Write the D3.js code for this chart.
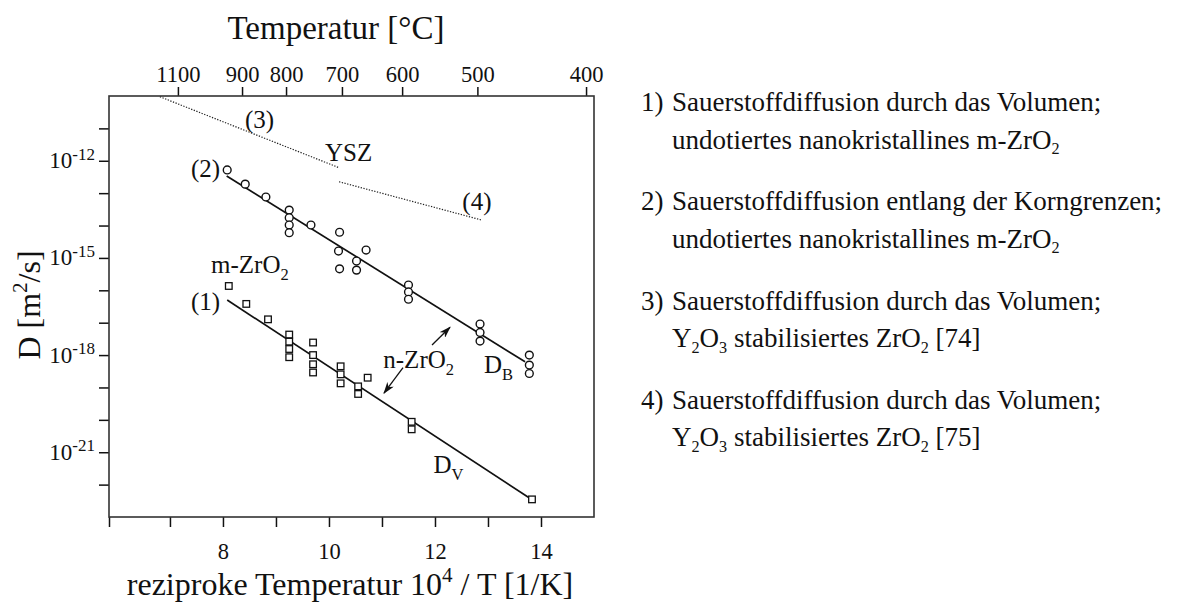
<!DOCTYPE html>
<html>
<head>
<meta charset="utf-8">
<script src="https://cdn.jsdelivr.net/npm/d3@7"></script>
<style>
  body { margin: 0; background: #fff; }
  svg { display: block; }
  text { font-family: "Liberation Serif", "Times New Roman", serif; fill: #111; }
</style>
</head>
<body>
<svg id="chart" width="1178" height="606"></svg>
<script>
// Grain-boundary diffusion (series 2), circles: 10^4/T [1/K] and D [m^2/s]
const boundaryX = [8.08, 8.42, 8.81, 9.25, 9.25, 9.25, 9.25, 9.66, 10.20, 10.18, 10.20,
                   10.52, 10.52, 10.70, 11.50, 11.50, 11.50, 12.85, 12.85, 12.85, 13.78, 13.78, 13.78];
const boundaryD = [5.2e-13, 1.9e-13, 7.6e-14, 3.0e-14, 1.75e-14, 1.04e-14, 6.0e-15, 1.04e-14, 6.2e-15, 1.63e-15, 4.6e-16,
                   8.0e-16, 4.2e-16, 1.75e-15, 1.46e-16, 8.9e-17, 5.3e-17, 9.1e-18, 5.0e-18, 2.7e-18, 1.0e-18, 4.9e-19, 2.7e-19];

// Volume diffusion (series 1), squares
const volumeX = [8.11, 8.44, 8.85, 9.25, 9.25, 9.25, 9.25, 9.70, 9.70, 9.70, 9.70,
                 10.22, 10.22, 10.22, 10.73, 10.55, 10.55, 11.56, 11.56, 13.83];
const volumeD = [1.36e-16, 3.8e-17, 1.27e-17, 4.3e-18, 2.6e-18, 1.54e-18, 8.6e-19, 2.44e-18, 1.0e-18, 5.2e-19, 2.9e-19,
                 4.5e-19, 2.54e-19, 1.34e-19, 2.0e-19, 1.08e-19, 6.3e-20, 8.7e-21, 5.1e-21, 3.5e-23];

// Fitted Arrhenius lines (start and end points)
const fitBoundary = [[8.07, 3.4e-13], [13.70, 6.2e-19]];
const fitVolume   = [[8.08, 5.0e-17], [13.79, 3.8e-23]];
// Literature data for Y2O3-stabilised ZrO2, dotted
const yszRef74 = [[6.81, 9.5e-11], [10.19, 6.1e-13]];
const yszRef75 = [[10.19, 2.25e-13], [12.88, 1.48e-14]];

// Axis ticks
const bottomTicks = [5.85, 7, 8, 9, 10, 11, 12, 13, 14];
const bottomLabels = [8, 10, 12, 14];
const tempLabels = ["1100", "900", "800", "700", "600", "500", "400"];
const tempAt = [7.15, 8.36, 9.19, 10.245, 11.38, 12.80, 14.85];
const yTickExps = [-22, -21, -20, -19, -18, -17, -16, -15, -14, -13, -12, -11];
const yLabelExps = [-12, -15, -18, -21];

// Text annotations placed in data coordinates
const notes = [
  { t: "(2)", x: 7.945, d: 3.16e-13, anchor: "end" },
  { t: "(1)", x: 7.945, d: 2.45e-17, anchor: "end" },
  { t: "m-ZrO_{2}", x: 7.775, d: 3.34e-16, anchor: "start" },
  { t: "(3)", x: 8.416, d: 1.05e-11, anchor: "start" },
  { t: "YSZ", x: 9.925, d: 1.0e-12, anchor: "start" },
  { t: "(4)", x: 12.516, d: 3.0e-14, anchor: "start" },
  { t: "n-ZrO_{2}", x: 11.025, d: 4.0e-19, anchor: "start" },
  { t: "D_{B}", x: 12.925, d: 2.73e-19, anchor: "start" },
  { t: "D_{V}", x: 11.973, d: 2.23e-22, anchor: "start" }
];
const arrows = [
  [[11.944, 2.04e-18], [12.284, 7.2e-18]],
  [[11.397, 4.08e-19], [11.038, 6.7e-20]]
];

const legendItems = [
  { num: "1)", l1: "Sauerstoffdiffusion durch das Volumen;", l2: "undotiertes nanokristallines m-ZrO_{2}" },
  { num: "2)", l1: "Sauerstoffdiffusion entlang der Korngrenzen;", l2: "undotiertes nanokristallines m-ZrO_{2}" },
  { num: "3)", l1: "Sauerstoffdiffusion durch das Volumen;", l2: "Y_{2}O_{3} stabilisiertes ZrO_{2} [74]" },
  { num: "4)", l1: "Sauerstoffdiffusion durch das Volumen;", l2: "Y_{2}O_{3} stabilisiertes ZrO_{2} [75]" }
];

// Writes a string with _{..} subscripts and ^{..} superscripts as tspans
function rich(sel, str, fs, opts = {}) {
  const subScale = opts.subScale || 0.66, supScale = opts.supScale || 0.66;
  const subShift = opts.subShift || 0.28, supShift = opts.supShift || 0.42;
  const toks = str.split(/(_\{[^}]*\}|\^\{[^}]*\})/).filter(s => s.length);
  let shift = 0;
  toks.forEach(t => {
    let kind = "norm", content = t;
    if (t.startsWith("_{")) { kind = "sub"; content = t.slice(2, -1); }
    else if (t.startsWith("^{")) { kind = "sup"; content = t.slice(2, -1); }
    const target = kind === "sub" ? fs * subShift : kind === "sup" ? -fs * supShift : 0;
    sel.append("tspan")
      .attr("dy", target - shift)
      .attr("font-size", kind === "norm" ? fs : fs * (kind === "sub" ? subScale : supScale))
      .text(content);
    shift = target;
  });
}

const svg = d3.select("#chart");
const L = 109, T = 96, R = 594, B = 517;

const x = d3.scaleLinear().domain([5.85, 15.0]).range([L, R]);
const y = d3.scaleLog().domain([1e-23, 1e-10]).range([B, T]);

const ink = "#111";

// Bottom axis
const gx = svg.append("g").attr("transform", `translate(0,${B})`)
  .call(d3.axisBottom(x).tickValues(bottomTicks).tickSize(10).tickSizeOuter(0)
    .tickFormat(d => bottomLabels.includes(d) ? d : ""));
gx.select(".domain").remove();
gx.selectAll(".tick line").attr("stroke", ink).attr("stroke-width", 1.5);
gx.selectAll(".tick text").attr("y", 42).attr("dy", 0).attr("font-size", 22.5)
  .attr("font-family", "Liberation Serif").attr("fill", ink);

// Top axis: temperature in °C
const gt = svg.append("g").attr("transform", `translate(0,${T})`)
  .call(d3.axisTop(x).tickValues(tempAt).tickSize(9).tickSizeOuter(0)
    .tickFormat((d, i) => tempLabels[i]));
gt.select(".domain").remove();
gt.selectAll(".tick line").attr("stroke", ink).attr("stroke-width", 1.5);
gt.selectAll(".tick text").attr("y", -14).attr("dy", 0).attr("font-size", 22.5)
  .attr("font-family", "Liberation Serif").attr("fill", ink);

// Left axis: log D
const gy = svg.append("g").attr("transform", `translate(${L},0)`)
  .call(d3.axisLeft(y).tickValues(yTickExps.map(e => Math.pow(10, e))).tickSize(10).tickSizeOuter(0)
    .tickFormat(() => ""));
gy.select(".domain").remove();
gy.selectAll(".tick line").attr("stroke", ink).attr("stroke-width", 1.5);
gy.selectAll(".tick text").remove();
yLabelExps.forEach(e => {
  const t = svg.append("text")
    .attr("x", L - 14).attr("y", y(Math.pow(10, e)) + 7.5)
    .attr("text-anchor", "end");
  rich(t, `10^{${e}}`, 23, { supScale: 0.74, supShift: 0.36 });
});

// Frame
svg.append("rect").attr("x", L).attr("y", T).attr("width", R - L).attr("height", B - T)
  .attr("fill", "none").attr("stroke", "#333").attr("stroke-width", 1.6);

// Axis titles
svg.append("text").attr("x", 336).attr("y", 39).attr("text-anchor", "middle")
  .attr("font-size", 33).text("Temperatur [°C]");
rich(svg.append("text").attr("x", 350).attr("y", 595).attr("text-anchor", "middle"),
  "reziproke Temperatur 10^{4} / T [1/K]", 32);
rich(svg.append("text").attr("transform", "translate(40,305) rotate(-90)").attr("text-anchor", "middle"),
  "D [m^{2}/s]", 32);

// Lines
const line = d3.line().x(d => x(d[0])).y(d => y(d[1]));
[fitBoundary, fitVolume].forEach(p =>
  svg.append("path").attr("d", line(p)).attr("fill", "none").attr("stroke", ink).attr("stroke-width", 1.7));
[yszRef74, yszRef75].forEach(p =>
  svg.append("path").attr("d", line(p)).attr("fill", "none").attr("stroke", "#222")
    .attr("stroke-width", 1.2).attr("stroke-dasharray", "1.3,1.5"));

// Markers
svg.append("g").selectAll("circle").data(boundaryX.map((v, i) => [v, boundaryD[i]])).join("circle")
  .attr("cx", d => x(d[0])).attr("cy", d => y(d[1])).attr("r", 3.9)
  .attr("fill", "#fff").attr("stroke", ink).attr("stroke-width", 1.4);
const s = 6.6;
svg.append("g").selectAll("rect").data(volumeX.map((v, i) => [v, volumeD[i]])).join("rect")
  .attr("x", d => x(d[0]) - s / 2).attr("y", d => y(d[1]) - s / 2).attr("width", s).attr("height", s)
  .attr("fill", "#fff").attr("stroke", ink).attr("stroke-width", 1.3);

// Annotations
notes.forEach(n => {
  const t = svg.append("text").attr("x", x(n.x)).attr("y", y(n.d))
    .attr("text-anchor", n.anchor);
  rich(t, n.t, 25);
});

svg.append("defs").append("marker").attr("id", "head")
  .attr("viewBox", "0 0 12 8").attr("refX", 11).attr("refY", 4)
  .attr("markerWidth", 12).attr("markerHeight", 8).attr("markerUnits", "userSpaceOnUse")
  .attr("orient", "auto")
  .append("path").attr("d", "M0,0 L12,4 L0,8 L3.5,4 Z").attr("fill", ink);
arrows.forEach(a =>
  svg.append("path").attr("d", line(a)).attr("stroke", ink).attr("stroke-width", 1.3)
    .attr("fill", "none").attr("marker-end", "url(#head)"));

// Legend: four numbered entries of two lines each
const legendFs = 27;
legendItems.forEach((it, i) => {
  const by = 111 + i * 99.3;
  svg.append("text").attr("x", 641).attr("y", by).attr("font-size", legendFs).text(it.num);
  svg.append("text").attr("x", 672).attr("y", by).attr("font-size", legendFs).text(it.l1);
  rich(svg.append("text").attr("x", 672).attr("y", by + 37.5), it.l2, legendFs,
    { subScale: 0.6, subShift: 0.2 });
});
</script>
</body>
</html>
